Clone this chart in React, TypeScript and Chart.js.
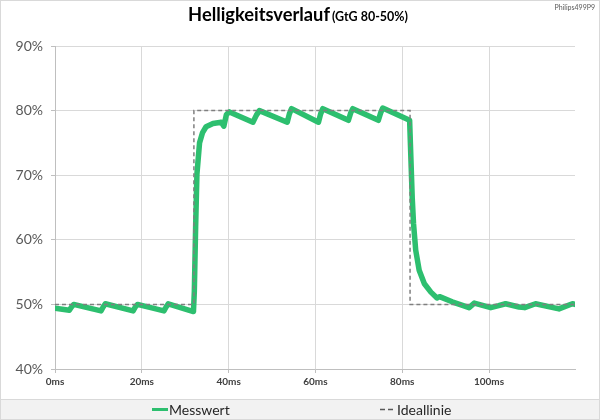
import { useEffect, useRef } from "react";
import { Chart, registerables } from "chart.js";

Chart.register(...registerables);

// ---- data ----
const messTime = [
  0, 3.3, 3.8, 4.3, 10.6, 11.1, 11.6, 18.0, 18.5, 19.0,
  25.1, 25.6, 26.1, 31.9, 32.1, 32.4, 32.7, 33.3, 34.0, 34.8,
  36.4, 38.3, 38.9, 39.5, 40.2, 45.6, 46.4, 47.1, 53.5, 54.0,
  54.5, 60.7, 61.2, 61.7, 67.6, 68.1, 68.6, 74.5, 75.0, 75.5,
  81.7, 82.0, 82.3, 82.6, 83.1, 83.9, 85.1, 86.6, 88.0, 88.6,
  91.5, 95.4, 96.6, 100.4, 102.2, 103.8, 106.9, 108.2, 110.7, 116.1,
  119.2, 119.8,
];
const messValue = [
  49.4, 49.1, 49.6, 50.0, 49.0, 49.6, 50.1, 49.0, 49.6, 50.0,
  49.0, 49.6, 50.1, 48.9, 52.0, 62.0, 70.2, 75.0, 76.6, 77.5,
  78.0, 78.2, 77.6, 79.4, 79.8, 78.2, 79.3, 80.0, 78.2, 79.5,
  80.3, 78.2, 79.5, 80.3, 78.5, 79.6, 80.3, 78.5, 79.6, 80.4,
  78.5, 72.5, 66.5, 62.5, 58.4, 55.3, 53.2, 51.9, 51.0, 51.2,
  50.4, 49.5, 50.2, 49.5, 49.8, 50.1, 49.6, 49.5, 50.1, 49.3,
  50.1, 50.0,
];
const idealTime = [0, 32, 32, 81.8, 81.8, 119.8];
const idealValue = [50, 50, 80, 80, 50, 50];
const yMin = 40;
const yMax = 90;
const yStep = 10;
const xMin = 0;
const xMax = 119.8;
const xStep = 10;
const xLabelStep = 20;
const seriesNames = ["Messwert", "Ideallinie"];
const titleMain = "Helligkeitsverlauf";
const titleSub = "(GtG 80-50%)";
const cornerLabel = "Philips499P9";

// ---- styles ----
const FONT = "Lato, 'Open Sans', 'DejaVu Sans', sans-serif";
const GREEN = "#2dbf6f";
const GRAY_DASH = "#7f7f7f";

const fitFont = (ctx: CanvasRenderingContext2D, text: string, weight: string, base: number, target: number) => {
  ctx.font = `${weight} ${base}px ${FONT}`;
  const w = ctx.measureText(text).width;
  return w > 0 ? (base * target) / w : base;
};

const decorPlugin = {
  id: "decor",
  beforeDraw(chart: any) {
    const ctx: CanvasRenderingContext2D = chart.ctx;
    const w = chart.width;
    const h = chart.height;
    ctx.save();
    ctx.fillStyle = "#ffffff";
    ctx.fillRect(0, 0, w, h);
    ctx.fillStyle = "#f2f2f2";
    ctx.fillRect(1, 400, w - 2, 19);
    ctx.strokeStyle = "#d9d9d9";
    ctx.lineWidth = 1;
    ctx.beginPath();
    ctx.moveTo(0, 399.5);
    ctx.lineTo(w, 399.5);
    ctx.stroke();
    ctx.strokeRect(0.5, 0.5, w - 1, h - 1);
    ctx.restore();
  },
  afterDraw(chart: any) {
    const ctx: CanvasRenderingContext2D = chart.ctx;
    ctx.save();
    // title
    const mainSize = fitFont(ctx, titleMain, "bold", 20, 142);
    const subSize = fitFont(ctx, titleSub, "bold", 13, 76);
    ctx.font = `bold ${mainSize}px ${FONT}`;
    const wm = ctx.measureText(titleMain).width;
    ctx.font = `bold ${subSize}px ${FONT}`;
    const ws = ctx.measureText(titleSub).width;
    const gap = 2;
    const startX = 298 - (wm + gap + ws) / 2;
    ctx.fillStyle = "#000000";
    ctx.textBaseline = "alphabetic";
    ctx.textAlign = "left";
    ctx.font = `bold ${mainSize}px ${FONT}`;
    ctx.fillText(titleMain, startX, 21);
    ctx.font = `bold ${subSize}px ${FONT}`;
    ctx.fillText(titleSub, startX + wm + gap, 21);
    // corner label
    ctx.fillStyle = "#595959";
    ctx.font = `7px ${FONT}`;
    ctx.textAlign = "right";
    ctx.fillText(cornerLabel, 595, 10);
    // legend
    ctx.textAlign = "left";
    ctx.textBaseline = "middle";
    ctx.font = `14px ${FONT}`;
    ctx.strokeStyle = GREEN;
    ctx.lineWidth = 3;
    ctx.beginPath();
    ctx.moveTo(152, 409.5);
    ctx.lineTo(168, 409.5);
    ctx.stroke();
    ctx.fillStyle = "#262626";
    ctx.fillText(seriesNames[0], 169, 410);
    ctx.strokeStyle = "#595959";
    ctx.lineWidth = 1.5;
    ctx.setLineDash([5, 3]);
    ctx.beginPath();
    ctx.moveTo(380, 409.5);
    ctx.lineTo(395, 409.5);
    ctx.stroke();
    ctx.setLineDash([]);
    ctx.fillText(seriesNames[1], 397, 410);
    ctx.restore();
  },
};

export default function App() {
  const ref = useRef<HTMLCanvasElement | null>(null);

  useEffect(() => {
    if (!ref.current) return;
    const chart = new Chart(ref.current, {
      type: "line",
      data: {
        datasets: [
          {
            label: seriesNames[0],
            data: messTime.map((t, i) => ({ x: t, y: messValue[i] })),
            borderColor: GREEN,
            backgroundColor: GREEN,
            borderWidth: 5.5,
            pointRadius: 0,
            tension: 0,
            borderJoinStyle: "round",
            borderCapStyle: "round",
            order: 2,
          },
          {
            label: seriesNames[1],
            data: idealTime.map((t, i) => ({ x: t, y: idealValue[i] })),
            borderColor: GRAY_DASH,
            backgroundColor: GRAY_DASH,
            borderWidth: 1.5,
            borderDash: [4, 3],
            pointRadius: 0,
            tension: 0,
            order: 1,
          },
        ],
      },
      options: {
        responsive: false,
        animation: false,
        events: [],
        layout: { padding: { top: 46, right: 25, bottom: 21, left: 0 } },
        plugins: {
          legend: { display: false },
          title: { display: false },
          tooltip: { enabled: false },
        },
        scales: {
          x: {
            type: "linear",
            min: xMin,
            max: xMax,
            afterFit: (s: any) => {
              s.height = 30;
            },
            ticks: {
              stepSize: xStep,
              autoSkip: false,
              maxRotation: 0,
              padding: 3,
              color: "#404040",
              font: { family: FONT, size: 10, weight: "bold" },
              callback: (v: any) => (Number(v) % xLabelStep === 0 ? `${v}ms` : ""),
            },
            grid: {
              color: (c: any) => (c.tick && c.tick.value % xLabelStep === 0 ? "#d9d9d9" : "rgba(0,0,0,0)"),
              tickColor: (c: any) => (c.tick && c.tick.value % xLabelStep === 0 ? "#bfbfbf" : "rgba(0,0,0,0)"),
              tickLength: 4,
            },
            border: { color: "#bfbfbf" },
          },
          y: {
            type: "linear",
            min: yMin,
            max: yMax,
            afterFit: (s: any) => {
              s.width = 55;
            },
            ticks: {
              stepSize: yStep,
              padding: 8,
              color: "#595959",
              font: { family: FONT, size: 14 },
              callback: (v: any) => `${v}%`,
            },
            grid: { color: "#d9d9d9", tickColor: "#bfbfbf", tickLength: 4 },
            border: { color: "#bfbfbf" },
          },
        },
      },
      plugins: [decorPlugin],
    } as any);
    return () => chart.destroy();
  }, []);

  return (
    <div style={{ position: "fixed", left: 0, top: 0, width: 600, height: 420, background: "#fff" }}>
      <canvas ref={ref} width={600} height={420} style={{ display: "block", width: 600, height: 420 }} />
    </div>
  );
}
